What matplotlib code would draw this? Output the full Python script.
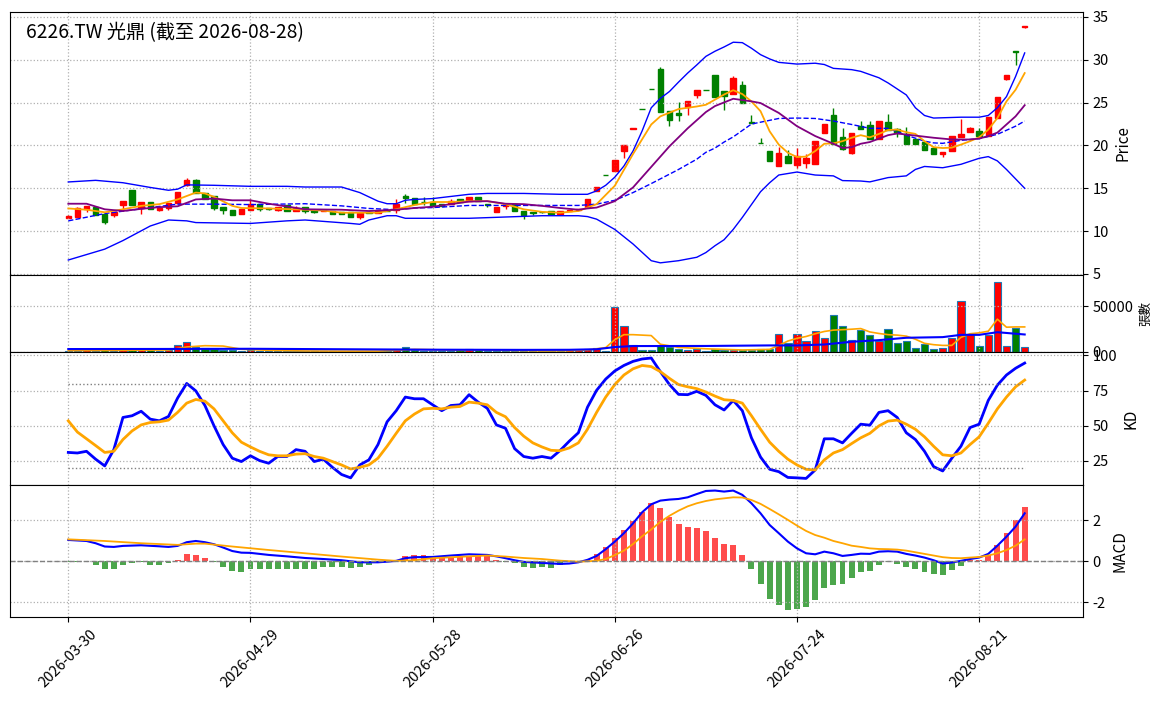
import numpy as np
import matplotlib
matplotlib.use('Agg')
import matplotlib.pyplot as plt

plt.rcParams['font.family'] = ['Noto Sans CJK TC', 'DejaVu Sans']
plt.rcParams['axes.unicode_minus'] = False

'''
Daily data read off the chart (index = trading day)
'''
title = '6226.TW 光鼎 (截至 2026-08-28)'
tick_labels = ['2026-03-30', '2026-04-29', '2026-05-28', '2026-06-26', '2026-07-24', '2026-08-21']
tick_pos = [0, 20, 40, 60, 80, 100]

opens = [11.5, 11.7, 12.6, 12.8, 12.0, 11.85, 13.1, 14.8, 12.75, 13.4,
         12.5, 12.75, 13.25, 15.4, 16.0, 14.4, 14.1, 12.8, 12.45, 12.05,
         12.45, 13.2, 12.65, 12.5, 13.1, 12.3, 12.8, 12.45, 12.3, 12.35,
         12.25, 12.2, 11.7, 12.25, 12.1, 12.4, 12.5, 14.1, 13.85, 13.45,
         13.35, 13.2, 13.2, 13.7, 13.5, 14.0, 13.15, 12.25, 12.95, 13.15,
         12.35, 12.25, 12.25, 12.35, 11.95, 12.4, 12.5, 12.85, 14.65, 16.6,
         17.0, 19.35, 21.9, 24.2, 26.6, 28.95, 24.0, 23.8, 24.5, 25.85,
         26.5, 28.25, 26.4, 26.0, 27.0, 22.7, 20.25, 19.35, 17.6, 18.75,
         17.7, 18.0, 17.85, 21.5, 23.6, 20.95, 19.1, 22.25, 22.35, 20.8,
         22.7, 21.95, 21.35, 20.8, 20.4, 19.7, 19.05, 19.4, 21.0, 21.6,
         21.7, 21.1, 23.2, 27.75, 31.0, 33.8]
closes = [11.8, 12.7, 12.9, 11.9, 11.1, 12.25, 13.5, 13.1, 13.4, 12.55,
          12.75, 13.25, 14.6, 16.0, 14.5, 13.8, 12.75, 12.45, 11.9, 12.55,
          13.2, 12.55, 12.55, 12.85, 12.3, 12.75, 12.3, 12.2, 12.5, 12.05,
          11.95, 11.6, 12.15, 12.15, 12.35, 12.3, 13.15, 13.9, 13.2, 13.35,
          12.95, 12.95, 13.5, 13.4, 14.0, 13.5, 13.0, 12.8, 13.15, 12.3,
          11.85, 12.1, 12.2, 11.95, 12.35, 12.45, 12.55, 13.7, 15.15, 16.6,
          18.3, 20.0, 22.0, 24.2, 26.6, 23.9, 23.0, 23.6, 25.2, 26.5,
          26.5, 25.6, 25.75, 27.85, 24.95, 22.6, 20.25, 18.2, 19.1, 18.0,
          18.75, 18.55, 20.5, 22.55, 20.2, 19.55, 21.5, 21.95, 20.8, 22.8,
          21.85, 21.5, 20.2, 20.2, 19.5, 19.05, 19.25, 21.05, 21.3, 22.05,
          21.1, 23.3, 25.6, 28.2, 30.9, 34.0]
highs = [11.85, 12.8, 12.9, 12.8, 12.0, 12.25, 13.5, 14.8, 13.4, 13.4,
         12.75, 13.25, 14.6, 16.15, 16.1, 14.4, 14.1, 12.8, 12.45, 12.55,
         13.7, 13.2, 12.7, 12.85, 13.1, 12.9, 12.8, 12.45, 12.5, 12.35,
         12.25, 12.2, 12.15, 12.3, 12.35, 12.45, 13.7, 14.3, 13.85, 14.0,
         14.0, 13.2, 13.8, 13.7, 14.0, 14.0, 13.15, 12.8, 13.15, 13.15,
         12.35, 12.25, 12.25, 12.35, 12.35, 12.45, 12.6, 13.7, 15.15, 16.6,
         18.3, 20.0, 22.0, 24.2, 26.6, 29.2, 24.0, 25.1, 25.2, 26.5,
         26.5, 28.25, 26.4, 28.05, 27.5, 23.5, 20.9, 19.35, 19.8, 19.5,
         19.7, 19.0, 20.5, 22.55, 24.4, 22.0, 21.5, 22.8, 22.9, 22.8,
         23.7, 22.05, 22.2, 20.8, 20.4, 19.7, 19.25, 21.05, 23.1, 22.1,
         22.0, 23.3, 25.6, 28.2, 31.0, 34.0]
lows = [11.5, 11.7, 12.2, 11.9, 10.8, 11.6, 12.5, 13.1, 12.0, 12.55,
        12.3, 12.45, 13.25, 15.3, 14.5, 13.8, 12.5, 12.0, 11.9, 12.05,
        12.45, 12.35, 12.5, 12.35, 12.3, 12.3, 12.1, 12.1, 12.3, 12.05,
        11.95, 11.6, 11.4, 12.1, 12.1, 12.3, 12.1, 13.3, 13.2, 13.1,
        12.95, 12.95, 13.2, 13.4, 13.5, 13.5, 12.8, 12.2, 12.55, 12.3,
        11.4, 11.9, 12.15, 11.95, 11.85, 12.4, 12.5, 12.85, 14.65, 16.6,
        17.0, 18.55, 21.9, 24.2, 26.6, 23.9, 22.3, 22.8, 23.6, 25.5,
        26.5, 25.6, 24.1, 26.0, 24.95, 22.6, 20.25, 18.2, 17.6, 18.0,
        17.4, 17.4, 17.85, 21.5, 20.2, 19.5, 19.0, 21.95, 20.8, 20.8,
        21.85, 21.0, 20.2, 20.2, 19.5, 19.05, 18.7, 19.4, 21.0, 21.6,
        21.1, 21.1, 23.2, 27.6, 29.4, 33.7]

volume = [1500, 1200, 1800, 1500, 2500, 1500, 2200, 3000, 2000, 1800,
          1500, 2500, 7300, 11300, 5400, 4000, 3500, 2000, 1800, 1500,
          2200, 1500, 1200, 1000, 1200, 1000, 1000, 900, 1000, 800,
          800, 900, 800, 700, 1000, 1200, 3000, 5800, 2500, 1500,
          1200, 1000, 1500, 2500, 3500, 1800, 1200, 1500, 1000, 1200,
          1500, 1000, 700, 1000, 1200, 2500, 2000, 3600, 4700, 1500,
          49300, 28300, 7600, 1800, 1800, 6500, 5800, 3600, 2200, 3600,
          700, 3600, 1800, 1800, 1800, 1800, 2900, 2900, 19900, 10100,
          19900, 12300, 23200, 14900, 40900, 28300, 13000, 24600, 18100, 12300,
          25400, 10100, 12300, 4700, 8700, 3600, 4300, 15600, 56200, 19900,
          6900, 18800, 76400, 6900, 26800, 5800]

# moving averages / bollinger band, read at the listed trading days
ma5_idx = [0, 2, 4, 6, 8, 10, 12, 14, 15, 16, 18, 19, 22, 26, 28, 30, 32, 34, 36, 38,
           40, 42, 44, 46, 48, 50, 52, 54, 56, 57, 58, 60, 62, 64, 65, 67, 69, 70, 71, 72,
           73, 74, 75, 76, 77, 78, 79, 80, 81, 82, 83, 84, 85, 86, 87, 88, 89, 90, 91, 92,
           93, 94, 95, 96, 97, 98, 99, 100, 101, 102, 103, 104, 105]
ma5_val = [12.65, 12.5, 12.2, 12.55, 12.95, 13.15, 13.7, 14.5, 14.4, 14.0, 12.95, 12.7, 12.65, 12.5, 12.4, 12.15, 12.15, 12.15, 12.55, 13.05,
           13.4, 13.4, 13.5, 13.5, 13.15, 12.55, 12.25, 12.15, 12.35, 12.75, 13.15, 15.3, 19.0, 22.45, 23.4, 24.25, 24.55, 24.75, 25.35, 25.95,
           26.45, 26.0, 25.15, 24.0, 21.65, 20.1, 19.15, 18.65, 18.7, 19.35, 20.2, 20.25, 20.5, 20.9, 21.2, 20.95, 21.35, 21.8, 21.85, 21.55,
           21.35, 20.5, 19.8, 19.7, 19.75, 20.1, 20.5, 20.95, 21.85, 23.2, 25.15, 26.5, 28.45]

ma10_idx = [0, 2, 4, 6, 8, 10, 12, 14, 16, 18, 20, 22, 26, 30, 33, 36, 38, 40, 44, 46,
            48, 50, 52, 54, 56, 57, 58, 60, 62, 64, 66, 68, 70, 71, 73, 75, 76, 78, 80, 82,
            84, 85, 86, 87, 88, 90, 91, 93, 95, 97, 99, 100, 101, 102, 103, 104, 105]
ma10_val = [13.2, 13.2, 12.55, 12.35, 12.6, 12.8, 12.9, 13.7, 13.8, 13.6, 13.6, 13.2, 12.55, 12.5, 12.35, 12.5, 12.7, 12.85, 13.45, 13.5,
            13.2, 13.15, 12.95, 12.7, 12.5, 12.65, 12.75, 13.5, 15.1, 17.5, 19.9, 22.0, 23.9, 24.6, 25.45, 25.15, 24.95, 23.8, 22.25, 21.1,
            20.2, 19.7, 19.8, 20.2, 20.4, 21.2, 21.4, 21.15, 20.9, 20.7, 20.7, 20.8, 21.1, 21.5, 22.45, 23.4, 24.7]

bb_mid_idx = [0, 4, 9, 12, 16, 20, 26, 30, 33, 36, 38, 40, 44, 48, 52, 56, 58, 60, 62, 64,
              67, 69, 70, 71, 72, 73, 75, 78, 80, 82, 84, 86, 88, 90, 92, 94, 95, 96, 98, 100,
              102, 104, 105]
bb_mid_val = [11.2, 12.05, 12.75, 13.15, 13.15, 13.1, 13.2, 12.95, 12.65, 12.5, 12.7, 12.75, 13.0, 13.0, 13.0, 13.0, 13.15, 13.6, 14.5, 15.55,
              17.2, 18.4, 19.2, 19.7, 20.4, 21.0, 22.5, 23.15, 23.2, 23.15, 22.85, 22.45, 22.0, 22.0, 21.2, 20.5, 20.3, 20.25, 20.6, 20.8,
              21.3, 22.25, 22.85]

bb_up_idx = [0, 3, 6, 9, 11, 12, 13, 16, 20, 24, 26, 30, 32, 33, 34, 35, 36, 37, 38, 40,
             44, 46, 50, 54, 57, 58, 59, 60, 61, 62, 63, 64, 65, 66, 67, 68, 69, 70, 71, 72,
             73, 74, 75, 76, 77, 78, 80, 82, 83, 84, 86, 87, 89, 90, 92, 93, 94, 95, 98, 100,
             101, 102, 103, 104, 105]
bb_up_val = [15.74, 15.93, 15.65, 15.1, 14.77, 14.9, 15.4, 15.35, 15.23, 15.23, 15.15, 15.15, 14.5, 14.0, 13.5, 13.2, 13.2, 13.6, 13.7, 13.8,
             14.3, 14.4, 14.4, 14.3, 14.3, 14.7, 15.35, 16.3, 17.6, 19.35, 21.7, 24.4, 25.5, 26.3, 27.4, 28.45, 29.4, 30.4, 31.0, 31.5,
             32.05, 32.0, 31.35, 30.6, 30.1, 29.7, 29.5, 29.6, 29.45, 29.0, 28.85, 28.65, 27.9, 27.3, 25.9, 24.4, 23.5, 23.2, 23.3, 23.3,
             23.5, 24.4, 25.7, 28.05, 30.8]

bb_low_idx = [0, 4, 6, 9, 11, 13, 14, 20, 24, 26, 31, 32, 33, 35, 36, 37, 40, 44, 48, 52,
              56, 57, 58, 60, 62, 64, 65, 67, 69, 70, 71, 72, 73, 74, 75, 76, 77, 78, 80, 82,
              84, 85, 87, 88, 90, 92, 93, 94, 96, 98, 100, 101, 102, 103, 104, 105]
bb_low_val = [6.63, 7.9, 8.9, 10.6, 11.3, 11.2, 11.0, 10.9, 11.2, 11.3, 10.9, 10.8, 11.3, 11.8, 11.8, 11.5, 11.5, 11.5, 11.65, 11.8,
              11.8, 11.7, 11.4, 10.2, 8.5, 6.55, 6.3, 6.55, 6.95, 7.5, 8.3, 9.0, 10.2, 11.6, 13.1, 14.6, 15.65, 16.55, 16.9, 16.55,
              16.45, 15.9, 15.85, 15.75, 16.25, 16.45, 17.2, 17.55, 17.4, 17.8, 18.5, 18.7, 18.2, 17.2, 16.1, 15.0]

vol_ma5_idx = [0, 4, 8, 11, 13, 15, 17, 19, 22, 26, 30, 34, 36, 38, 40, 43, 45, 48, 52, 55,
               57, 59, 60, 61, 62, 63, 64, 65, 67, 70, 74, 77, 78, 79, 80, 81, 82, 83, 84, 85,
               86, 87, 88, 89, 90, 91, 92, 93, 94, 95, 96, 97, 98, 99, 100, 101, 102, 103, 104, 105]
vol_ma5_val = [1500, 1600, 2000, 2200, 5500, 6900, 6500, 3000, 1800, 1100, 900, 900, 1800, 2800, 2500, 1800, 2200, 1800, 1100, 1300,
               2200, 4800, 13500, 19000, 19000, 18500, 18000, 8500, 5000, 3500, 2200, 2800, 7200, 12000, 15000, 17000, 20000, 22500, 24000, 24500,
               25000, 25700, 22000, 20300, 19000, 18500, 17400, 14000, 9500, 8000, 7200, 7200, 16000, 20000, 21000, 22800, 36000, 27200, 27500, 27500]

vol_ma20_idx = [0, 10, 20, 30, 40, 50, 55, 58, 60, 62, 70, 77, 80, 83, 86, 89, 92, 96, 98, 100, 102, 105]
vol_ma20_val = [3200, 3300, 3500, 3000, 2500, 2300, 2400, 3000, 5400, 6500, 6600, 7200, 7200, 8200, 11200, 13000, 15600, 16300, 18800, 18800, 21700, 19200]

k_val = [31.0, 30.6, 31.8, 26.2, 21.4, 33.0, 55.9, 57.1, 60.3, 54.7,
         53.5, 56.6, 69.7, 80.1, 74.8, 64.4, 49.9, 36.6, 26.9, 24.5,
         28.6, 25.2, 23.3, 28.1, 28.1, 33.0, 31.8, 24.5, 26.2, 20.4,
         15.3, 12.9, 22.1, 25.7, 36.6, 52.8, 60.7, 70.4, 69.2, 69.2,
         64.9, 60.7, 64.4, 64.9, 72.1, 66.8, 62.4, 50.6, 48.2, 33.7,
         28.1, 26.9, 28.1, 26.9, 32.4, 39.0, 45.0, 63.2, 75.2, 83.2,
         89.0, 92.9, 95.8, 97.5, 98.2, 88.5, 79.3, 72.3, 72.1, 74.5,
         71.6, 64.9, 61.2, 68.0, 60.7, 41.4, 27.7, 19.0, 17.3, 13.2,
         12.9, 12.5, 18.5, 40.7, 40.7, 37.8, 44.6, 51.1, 50.4, 59.5,
         60.7, 55.9, 45.0, 40.2, 31.8, 20.9, 17.8, 26.9, 35.4, 48.7,
         51.1, 68.0, 78.9, 86.1, 90.9, 94.6]
d_val = [53.5, 45.5, 40.7, 35.9, 31.0, 31.8, 40.2, 46.3, 50.6, 52.3,
         52.8, 54.0, 59.5, 66.1, 68.7, 67.5, 62.0, 53.5, 45.0, 38.3,
         34.9, 31.8, 29.3, 28.6, 28.6, 29.8, 30.1, 28.1, 26.9, 24.5,
         22.1, 19.2, 20.4, 22.1, 26.9, 35.4, 44.6, 53.5, 58.3, 62.0,
         62.4, 62.0, 63.2, 63.7, 66.8, 66.1, 64.9, 59.5, 56.4, 48.7,
         42.6, 37.8, 34.9, 32.5, 32.2, 34.2, 37.8, 47.5, 59.5, 70.4,
         79.3, 86.1, 90.5, 92.9, 92.1, 88.5, 83.7, 79.3, 77.7, 76.4,
         74.0, 71.1, 68.5, 68.0, 66.1, 57.1, 47.5, 38.3, 31.8, 26.2,
         22.1, 19.0, 18.5, 25.7, 30.6, 33.0, 37.3, 41.4, 44.6, 49.9,
         53.3, 54.0, 51.1, 47.5, 42.1, 35.4, 29.3, 28.6, 30.6, 36.6,
         42.1, 51.8, 62.0, 70.4, 77.7, 82.5]

macd_hist = [-0.02, -0.06, -0.06, -0.2, -0.4, -0.36, -0.2, -0.1, -0.06, -0.16,
             -0.16, -0.1, 0.05, 0.36, 0.31, 0.16, -0.06, -0.26, -0.46, -0.5,
             -0.4, -0.4, -0.4, -0.36, -0.4, -0.36, -0.36, -0.36, -0.26, -0.26,
             -0.26, -0.31, -0.26, -0.2, -0.1, -0.03, 0.05, 0.26, 0.31, 0.31,
             0.21, 0.16, 0.16, 0.21, 0.26, 0.26, 0.26, 0.05, -0.03, -0.1,
             -0.26, -0.31, -0.26, -0.31, -0.18, -0.05, -0.02, 0.05, 0.36, 0.70,
             1.14, 1.54, 1.97, 2.41, 2.83, 2.59, 2.16, 1.82, 1.67, 1.63,
             1.48, 1.14, 0.85, 0.80, 0.31, -0.36, -1.09, -1.82, -2.11, -2.36,
             -2.31, -2.21, -1.87, -1.28, -1.14, -1.09, -0.80, -0.50, -0.46, -0.16,
             -0.06, -0.11, -0.26, -0.36, -0.50, -0.60, -0.65, -0.41, -0.21, 0.05,
             0.07, 0.31, 0.80, 1.38, 2.02, 2.65]

dif_idx = [0, 2, 3, 4, 5, 6, 8, 10, 11, 12, 13, 14, 15, 16, 17, 18, 19, 20, 22, 24,
           26, 28, 30, 32, 34, 35, 36, 37, 38, 40, 42, 44, 46, 47, 48, 49, 50, 52, 54, 55,
           56, 57, 58, 59, 60, 61, 62, 63, 64, 65, 66, 67, 68, 69, 70, 71, 72, 73, 74, 75,
           76, 77, 78, 79, 80, 81, 82, 83, 84, 85, 86, 87, 88, 89, 90, 91, 92, 93, 94, 95,
           96, 97, 98, 99, 100, 101, 102, 103, 104, 105]
dif_val = [1.04, 0.99, 0.88, 0.72, 0.70, 0.75, 0.78, 0.73, 0.70, 0.75, 0.93, 0.99, 0.93, 0.83, 0.67, 0.50, 0.42, 0.41, 0.31, 0.24,
           0.16, 0.11, 0.05, -0.05, -0.05, -0.02, 0.02, 0.15, 0.20, 0.21, 0.28, 0.34, 0.31, 0.24, 0.15, 0.05, -0.03, -0.08, -0.13, -0.11,
           -0.05, 0.07, 0.26, 0.59, 0.96, 1.37, 1.85, 2.39, 2.78, 2.96, 3.01, 3.04, 3.12, 3.28, 3.43, 3.45, 3.40, 3.45, 3.24, 2.83,
           2.34, 1.77, 1.37, 0.96, 0.63, 0.39, 0.34, 0.47, 0.39, 0.26, 0.31, 0.37, 0.36, 0.47, 0.49, 0.47, 0.36, 0.28, 0.18, 0.05,
           -0.11, -0.06, 0.02, 0.11, 0.18, 0.36, 0.76, 1.20, 1.69, 2.34]

dea_idx = [0, 4, 8, 12, 14, 15, 18, 22, 26, 30, 34, 36, 38, 40, 44, 46, 48, 50, 52, 54,
           56, 58, 59, 60, 61, 62, 63, 64, 65, 66, 67, 68, 69, 70, 71, 72, 73, 74, 75, 76,
           77, 78, 79, 80, 81, 82, 83, 84, 85, 86, 87, 88, 89, 90, 91, 92, 93, 94, 95, 96,
           97, 98, 99, 100, 101, 102, 103, 104, 105]
dea_val = [1.07, 0.99, 0.88, 0.80, 0.86, 0.86, 0.72, 0.55, 0.39, 0.23, 0.08, 0.02, 0.05, 0.15, 0.24, 0.28, 0.23, 0.16, 0.11, 0.03,
           -0.02, 0.02, 0.11, 0.30, 0.52, 0.84, 1.22, 1.55, 1.92, 2.22, 2.47, 2.68, 2.83, 2.94, 3.02, 3.07, 3.12, 3.11, 2.99, 2.80,
           2.55, 2.29, 2.02, 1.74, 1.48, 1.28, 1.15, 0.99, 0.88, 0.76, 0.70, 0.63, 0.60, 0.59, 0.57, 0.52, 0.44, 0.36, 0.28, 0.20,
           0.16, 0.15, 0.18, 0.21, 0.28, 0.39, 0.55, 0.76, 1.07]

x = np.arange(len(closes))
o = np.array(opens)
c = np.array(closes)
up = c > o
candle_colors = np.where(up, 'red', 'green')

fig = plt.figure(figsize=(11.63, 7.01), dpi=100)
left, width = 0.0086, 0.9226
ax1 = fig.add_axes([left, 0.6077, width, 0.3752])
ax2 = fig.add_axes([left, 0.4979, width, 0.1098], sharex=ax1)
ax3 = fig.add_axes([left, 0.3081, width, 0.1898], sharex=ax1)
ax4 = fig.add_axes([left, 0.1198, width, 0.1883], sharex=ax1)

grid_kw = dict(linestyle=':', color='#b0b0b0', linewidth=0.9)

'''
Price panel - candles, bollinger band, MA5 / MA10
'''
ax1.vlines(x, lows, highs, colors=candle_colors, linewidth=1)
body_bottom = np.minimum(o, c)
body_height = np.abs(c - o)
ax1.bar(x, body_height, bottom=body_bottom, width=0.6, color=candle_colors,
        edgecolor=candle_colors, linewidth=1)
ax1.plot(bb_up_idx, bb_up_val, color='blue', linewidth=1)
ax1.plot(bb_low_idx, bb_low_val, color='blue', linewidth=1)
ax1.plot(bb_mid_idx, bb_mid_val, color='blue', linewidth=1, linestyle='--')
ax1.plot(ma5_idx, ma5_val, color='orange', linewidth=1.3)
ax1.plot(ma10_idx, ma10_val, color='purple', linewidth=1.3)
ax1.set_ylim(4.88, 35.58)
ax1.set_yticks([5, 10, 15, 20, 25, 30, 35])
ax1.set_ylabel('Price', fontsize=11)
ax1.text(0.0145, 0.92, title, transform=ax1.transAxes, fontsize=13.8,
         fontweight='medium', va='center')

'''
Volume panel
'''
ax2.bar(x, volume, width=0.8, color=candle_colors, edgecolor='#1f77b4', linewidth=0.8)
ax2.plot(vol_ma5_idx, vol_ma5_val, color='orange', linewidth=1.2)
ax2.plot(vol_ma20_idx, vol_ma20_val, color='blue', linewidth=1.5)
ax2.set_ylim(0, 84500)
ax2.set_yticks([0, 50000])
ax2.set_ylabel('張數', fontsize=9)

'''
KD panel
'''
ax3.plot(x, k_val, color='blue', linewidth=2)
ax3.plot(x, d_val, color='orange', linewidth=2)
ax3.hlines([80, 20], 0, len(x) - 1, colors='gray', linestyles=':', linewidth=1)
ax3.set_ylim(7.8, 102.5)
ax3.set_yticks([25, 50, 75, 100])
ax3.set_ylabel('KD', fontsize=11)

'''
MACD panel
'''
hist = np.array(macd_hist)
hist_colors = np.where(hist >= 0, 'red', 'green')
ax4.bar(x, hist, width=0.65, color=hist_colors, alpha=0.7)
ax4.plot(dif_idx, dif_val, color='blue', linewidth=1.5)
ax4.plot(dea_idx, dea_val, color='orange', linewidth=1.3)
ax4.axhline(0, color='gray', linestyle='--', linewidth=1)
ax4.set_ylim(-2.72, 3.72)
ax4.set_yticks([-2, 0, 2])
ax4.set_ylabel('MACD', fontsize=11)

for ax in [ax1, ax2, ax3, ax4]:
    ax.yaxis.tick_right()
    ax.yaxis.set_label_position('right')
    ax.grid(True, **grid_kw)
    ax.tick_params(axis='y', labelsize=10.5)

ax1.set_xlim(-6.4, 111.4)
ax4.set_xticks(tick_pos)
ax4.set_xticklabels(tick_labels, rotation=45, ha='center', fontsize=10.5)
for ax in [ax1, ax2, ax3]:
    ax.tick_params(axis='x', labelbottom=False, length=0)

fig.savefig('out.png', dpi=100)
